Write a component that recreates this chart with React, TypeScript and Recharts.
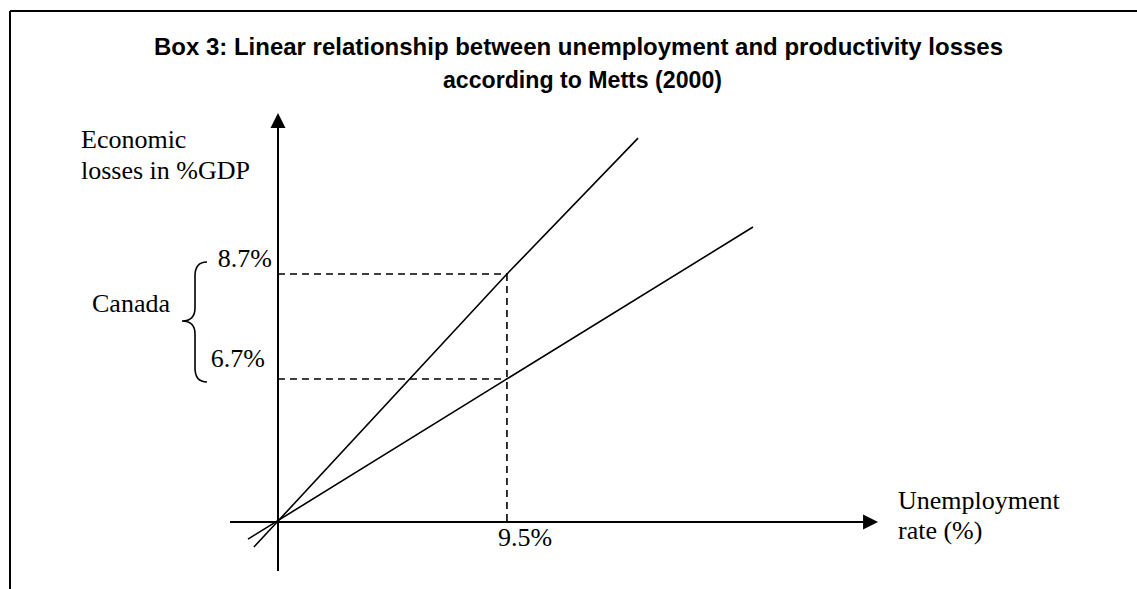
import React from 'react'
import { Label, Line, LineChart, ReferenceLine, XAxis, YAxis } from 'recharts'

// schematic chart: the y scale is not proportional to the printed %
const steepUnemployment = [-1.0, 9.5, 14.94]
const steepLosses = [-0.88, 8.7, 13.47]
const flatUnemployment = [-1.245, 9.5, 19.71]
const flatLosses = [-0.6, 5.02, 10.35]

const canadaRate = 9.5
const canadaHighLevel = 8.7
const canadaLowLevel = 5.02
const canadaLabels = ['8.7%', '6.7%']
const rateLabel = '9.5%'

const xAxisExtent = [-1.99, 24.9]
const yAxisExtent = [-1.72, 14.35]

const W = 1137
const H = 589
const X_PX = 24.1
const Y_PX = 28.5
const ORIGIN_X = 278
const ORIGIN_Y = 522
const X_DOMAIN: [number, number] = [-ORIGIN_X / X_PX, (W - ORIGIN_X) / X_PX]
const Y_DOMAIN: [number, number] = [-(H - ORIGIN_Y) / Y_PX, ORIGIN_Y / Y_PX]

const serif = "'Liberation Serif', 'Times New Roman', serif"
const titleFont = "'Liberation Sans', Arial, sans-serif"

const toPoints = (xs: number[], ys: number[]) => xs.map((x, i) => ({ x, y: ys[i] }))

const arrowLine = (p: any) => {
  const { x1, y1, x2, y2 } = p
  const len = Math.hypot(x2 - x1, y2 - y1) || 1
  const ux = (x2 - x1) / len
  const uy = (y2 - y1) / len
  const head = 15
  const half = 7.5
  const bx = x2 - ux * head
  const by = y2 - uy * head
  return (
    <g>
      <line x1={x1} y1={y1} x2={bx} y2={by} stroke="#000" strokeWidth={2} />
      <polygon
        points={`${x2},${y2} ${bx - uy * half},${by + ux * half} ${bx + uy * half},${by - ux * half}`}
        fill="#000"
      />
    </g>
  )
}

const tickText = (text: string, dx: number, dy: number, anchor: 'start' | 'end', fromBottom = false) =>
  (props: any) => {
    const vb = props.viewBox || {}
    const y = fromBottom ? vb.y + vb.height : vb.y
    return (
      <text x={vb.x + dx} y={y + dy} textAnchor={anchor} fontFamily={serif} fontSize={26} fill="#000">
        {text}
      </text>
    )
  }

export default function App() {
  return (
    <div style={{ position: 'absolute', left: 0, top: 0, width: W, height: H, background: '#fff' }}>
      <LineChart
        width={W}
        height={H}
        margin={{ top: 0, right: 0, bottom: 0, left: 0 }}
        style={{ position: 'absolute', left: 0, top: 0 }}
      >
        <XAxis type="number" dataKey="x" domain={X_DOMAIN} hide allowDataOverflow />
        <YAxis type="number" domain={Y_DOMAIN} hide allowDataOverflow />
        <ReferenceLine
          segment={[{ x: xAxisExtent[0], y: 0 }, { x: xAxisExtent[1], y: 0 }]}
          shape={arrowLine}
          ifOverflow="visible"
        />
        <ReferenceLine
          segment={[{ x: 0, y: yAxisExtent[0] }, { x: 0, y: yAxisExtent[1] }]}
          shape={arrowLine}
          ifOverflow="visible"
        />
        <ReferenceLine
          segment={[{ x: 0, y: canadaHighLevel }, { x: canadaRate, y: canadaHighLevel }]}
          stroke="#000"
          strokeWidth={1.6}
          strokeDasharray="7 5"
          ifOverflow="visible"
        >
          <Label content={tickText(canadaLabels[0], -6, -7, 'end')} />
        </ReferenceLine>
        <ReferenceLine
          segment={[{ x: 0, y: canadaLowLevel }, { x: canadaRate, y: canadaLowLevel }]}
          stroke="#000"
          strokeWidth={1.6}
          strokeDasharray="7 5"
          ifOverflow="visible"
        >
          <Label content={tickText(canadaLabels[1], -13, -12, 'end')} />
        </ReferenceLine>
        <ReferenceLine
          segment={[{ x: canadaRate, y: canadaHighLevel }, { x: canadaRate, y: 0 }]}
          stroke="#000"
          strokeWidth={1.6}
          strokeDasharray="7 5"
          ifOverflow="visible"
        >
          <Label content={tickText(rateLabel, -9, 24, 'start', true)} />
        </ReferenceLine>
        <Line
          data={toPoints(steepUnemployment, steepLosses)}
          dataKey="y"
          stroke="#000"
          strokeWidth={1.6}
          dot={false}
          activeDot={false}
          isAnimationActive={false}
        />
        <Line
          data={toPoints(flatUnemployment, flatLosses)}
          dataKey="y"
          stroke="#000"
          strokeWidth={1.6}
          dot={false}
          activeDot={false}
          isAnimationActive={false}
        />
      </LineChart>
      <svg width={W} height={H} style={{ position: 'absolute', left: 0, top: 0, pointerEvents: 'none' }}>
        <line x1={10} y1={11} x2={W} y2={11} stroke="#000" strokeWidth={2} />
        <line x1={10} y1={11} x2={10} y2={H} stroke="#000" strokeWidth={2} />
        <g fontFamily={titleFont} fontWeight="bold" fontSize={24} fill="#000" textAnchor="middle">
          <text x={578.5} y={55} textLength={849} lengthAdjust="spacingAndGlyphs">
            Box 3: Linear relationship between unemployment and productivity losses
          </text>
          <text x={582.5} y={88} textLength={279} lengthAdjust="spacingAndGlyphs">
            according to Metts (2000)
          </text>
        </g>
        <g fontFamily={serif} fontSize={26} fill="#000">
          <text x={81} y={148}>Economic</text>
          <text x={81} y={179}>losses in %GDP</text>
          <text x={898} y={509}>Unemployment</text>
          <text x={898} y={539}>rate (%)</text>
          <text x={92} y={312}>Canada</text>
        </g>
        <path
          d="M207,262 Q195,262 195,276 L195,308 Q195,321 182,321 Q195,321 195,334 L195,368 Q195,382 207,382"
          fill="none"
          stroke="#000"
          strokeWidth={1.6}
        />
      </svg>
    </div>
  )
}
